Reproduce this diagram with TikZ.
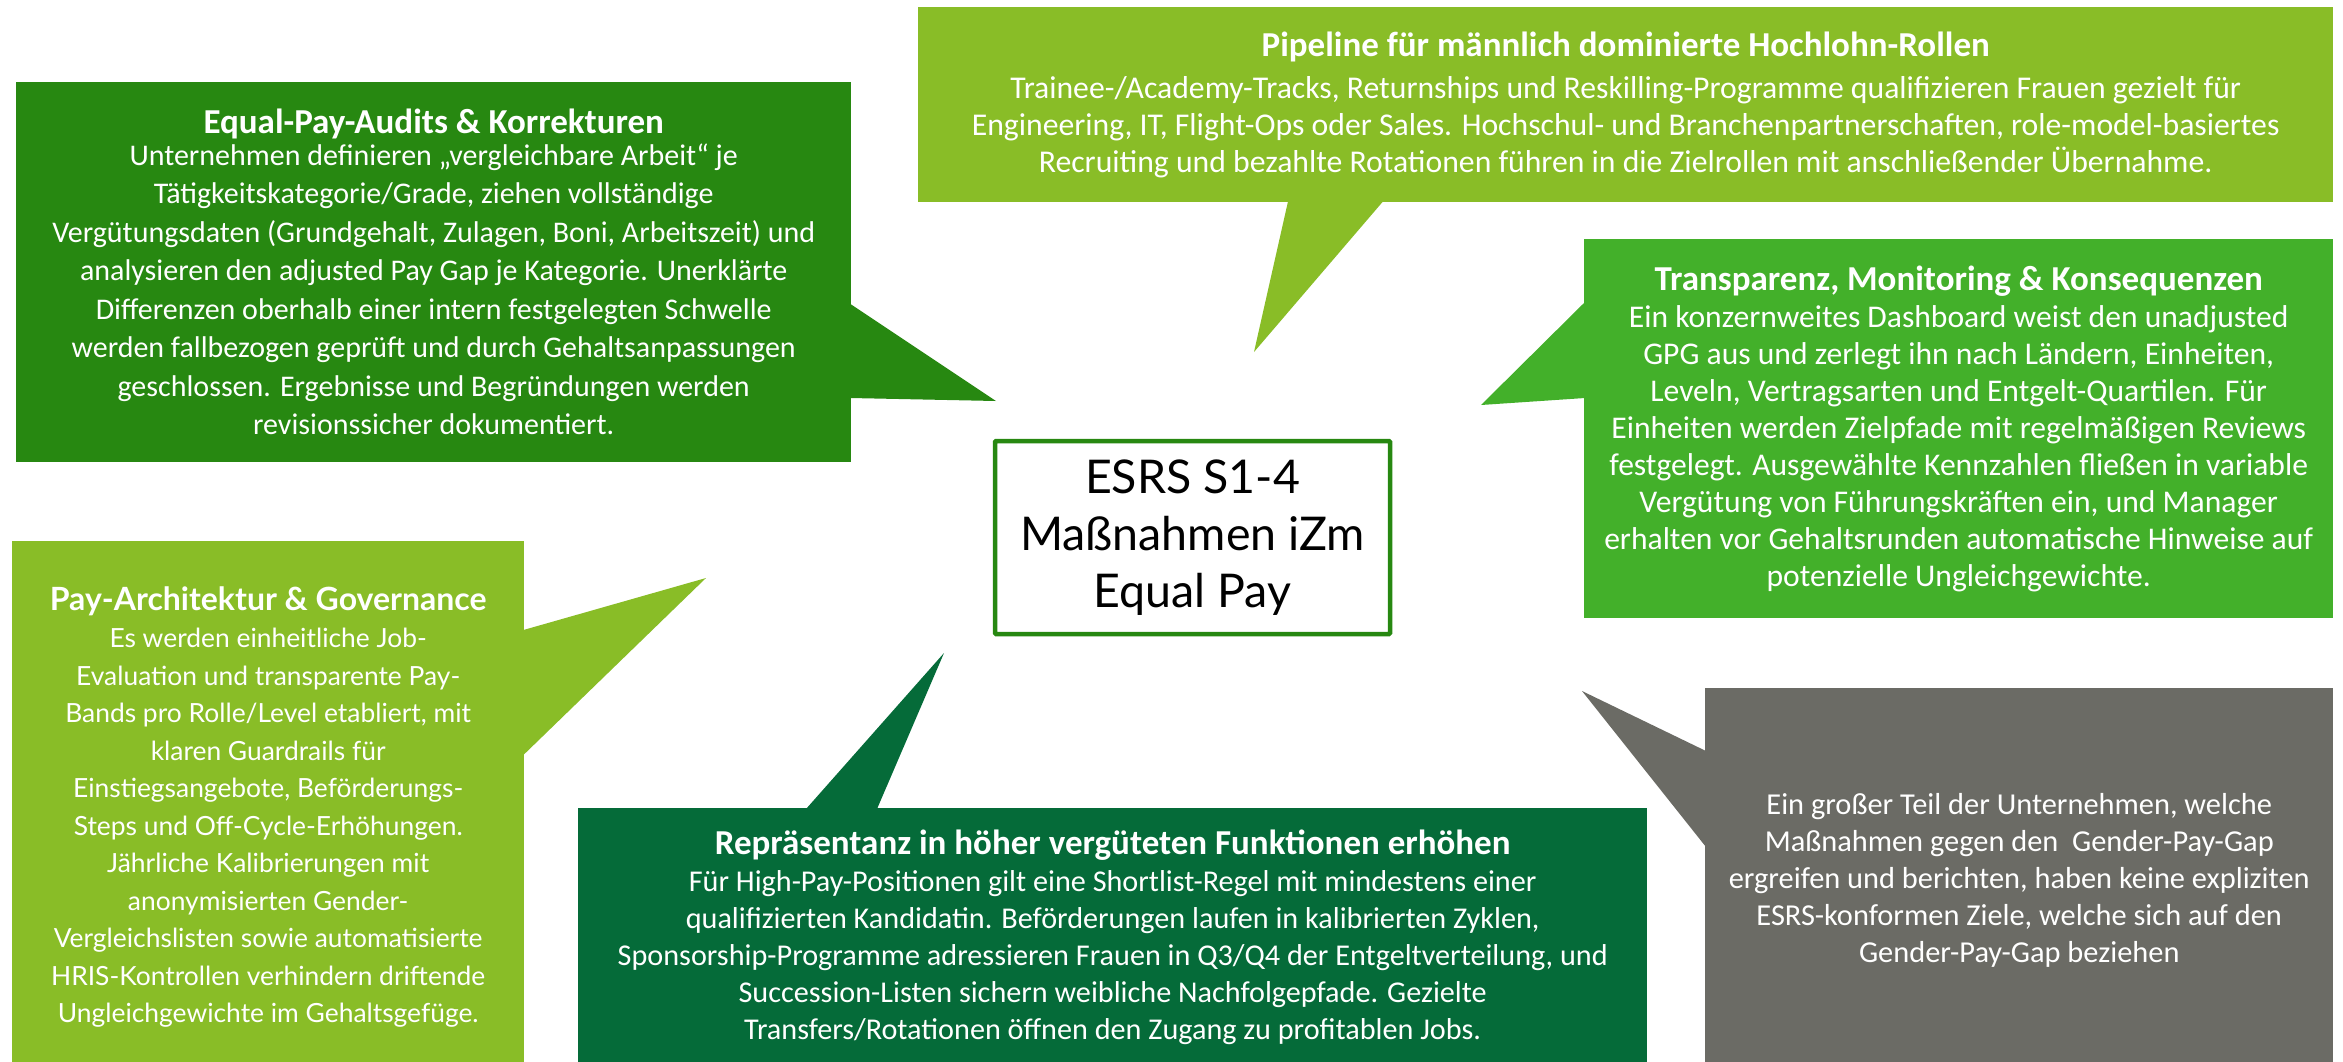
\documentclass[tikz,border=0pt]{standalone}
\usepackage{fontspec}
\setmainfont{Carlito}
\newfontfamily\widefont{Lato}
\usepackage{tikz}
\usetikzlibrary{calc}
\definecolor{darkgr}{RGB}{39,136,17}
\definecolor{lightgr}{RGB}{137,189,39}
\definecolor{midgr}{RGB}{67,176,42}
\definecolor{deepgr}{RGB}{5,107,57}
\definecolor{greygr}{RGB}{107,107,101}
\newcommand{\boxtitle}[1]{{\fontsize{35}{37}\selectfont\bfseries #1}}
\newcommand{\widetitle}[1]{{\fontsize{32}{37.5}\selectfont\bfseries #1}}
\tikzset{
    boxnode/.style = {rectangle, anchor=north west, inner sep=0em, text=white, align=center,
      font=\fontsize{31}{37}\selectfont},
    widenode/.style = {boxnode, font=\widefont\fontsize{26.4}{37.5}\selectfont},
    centernode/.style = {draw=darkgr, line width=4.5pt, rectangle, rounded corners=1pt, fill=white,
      text=black, align=center, inner sep=0em, font=\widefont\fontsize{46.5}{57}\selectfont}
}

\begin{document}
\begin{tikzpicture}[x=1pt, y=-1pt]
\useasboundingbox (0,0) rectangle (2343,1061);

\node [boxnode, fill=darkgr, minimum width=835pt, minimum height=380pt, name=audit,
  font=\fontsize{30}{38.5}\selectfont] at (16,82)
  {\boxtitle{Equal-Pay-Audits \& Korrekturen}\\[-7pt]
   Unternehmen definieren „vergleichbare Arbeit“ je\\
   Tätigkeitskategorie/Grade, ziehen vollständige\\
   Vergütungsdaten (Grundgehalt, Zulagen, Boni, Arbeitszeit) und\\
   analysieren den adjusted Pay Gap je Kategorie. Unerklärte\\
   Differenzen oberhalb einer intern festgelegten Schwelle\\
   werden fallbezogen geprüft und durch Gehaltsanpassungen\\
   geschlossen. Ergebnisse und Begründungen werden\\
   revisionssicher dokumentiert.};

\node [boxnode, fill=lightgr, minimum width=1415pt, minimum height=195pt, name=pipeline,
  font=\fontsize{31.7}{36.6}\selectfont] at (918,7)
  {\boxtitle{Pipeline für männlich dominierte Hochlohn-Rollen}\\[6pt]
   Trainee-/Academy-Tracks, Returnships und Reskilling-Programme qualifizieren Frauen gezielt für\\
   Engineering, IT, Flight-Ops oder Sales. Hochschul- und Branchenpartnerschaften, role-model-basiertes\\
   Recruiting und bezahlte Rotationen führen in die Zielrollen mit anschließender Übernahme.};

\node [boxnode, fill=midgr, minimum width=749pt, minimum height=379pt, name=monitor,
  font=\fontsize{31.6}{37}\selectfont] at (1584,239)
  {\boxtitle{Transparenz, Monitoring \& Konsequenzen}\\
   Ein konzernweites Dashboard weist den unadjusted\\
   GPG aus und zerlegt ihn nach Ländern, Einheiten,\\
   Leveln, Vertragsarten und Entgelt-Quartilen. Für\\
   Einheiten werden Zielpfade mit regelmäßigen Reviews\\
   festgelegt. Ausgewählte Kennzahlen fließen in variable\\
   Vergütung von Führungskräften ein, und Manager\\
   erhalten vor Gehaltsrunden automatische Hinweise auf\\
   potenzielle Ungleichgewichte.};

\node [widenode, fill=lightgr, minimum width=512pt, minimum height=532pt, name=archi] at (12,541)
  {\widetitle{Pay-Architektur \& Governance}\\
   Es werden einheitliche Job-\\
   Evaluation und transparente Pay-\\
   Bands pro Rolle/Level etabliert, mit\\
   klaren Guardrails für\\
   Einstiegsangebote, Beförderungs-\\
   Steps und Off-Cycle-Erhöhungen.\\
   Jährliche Kalibrierungen mit\\
   anonymisierten Gender-\\
   Vergleichslisten sowie automatisierte\\
   HRIS-Kontrollen verhindern driftende\\
   Ungleichgewichte im Gehaltsgefüge.};

\node [boxnode, fill=deepgr, minimum width=1069pt, minimum height=259pt, name=repr,
  font=\fontsize{30.2}{37}\selectfont] at (578,808)
  {\boxtitle{Repräsentanz in höher vergüteten Funktionen erhöhen}\\
   Für High-Pay-Positionen gilt eine Shortlist-Regel mit mindestens einer\\
   qualifizierten Kandidatin. Beförderungen laufen in kalibrierten Zyklen,\\
   Sponsorship-Programme adressieren Frauen in Q3/Q4 der Entgeltverteilung, und\\
   Succession-Listen sichern weibliche Nachfolgepfade. Gezielte\\
   Transfers/Rotationen öffnen den Zugang zu profitablen Jobs.};

\node [boxnode, fill=greygr, minimum width=628pt, minimum height=385pt, name=finding,
  font=\fontsize{30.4}{37}\selectfont] at (1705,688)
  {Ein großer Teil der Unternehmen, welche\\
   Maßnahmen gegen den \ Gender-Pay-Gap\\
   ergreifen und berichten, haben keine expliziten\\
   ESRS-konformen Ziele, welche sich auf den\\
   Gender-Pay-Gap beziehen};

% tips of the callouts
\coordinate (audittip) at (996,401);
\coordinate (pipetip) at (1254,352);
\coordinate (montip) at (1481,405);
\coordinate (architip) at (706,578);
\coordinate (reprtip) at (944,653);
\coordinate (findtip) at (1582,691);

\fill [darkgr] ($(audit.north east)+(-1,222)$) -- (audittip) -- ($(audit.north east)+(-1,316)$) -- cycle;
\fill [lightgr] ($(pipeline.south west)+(370,-1)$) -- (pipetip) -- ($(pipeline.south west)+(465,-1)$) -- cycle;
\fill [midgr] ($(monitor.north west)+(1,63)$) -- (montip) -- ($(monitor.north west)+(1,159)$) -- cycle;
\fill [lightgr] ($(archi.north east)+(-1,89)$) -- (architip) -- ($(archi.north east)+(-1,214)$) -- cycle;
\fill [deepgr] ($(repr.north west)+(228,1)$) -- (reprtip) -- ($(repr.north west)+(299,1)$) -- cycle;
\fill [greygr] ($(finding.north west)+(1,63)$) -- (findtip) -- ($(finding.north west)+(1,159)$) -- cycle;

\node [centernode, minimum width=395pt, minimum height=193pt, name=esrs] at (1192.5,537.5)
  {ESRS S1-4\\Maßnahmen iZm\\Equal Pay};
\end{tikzpicture}
\end{document}
